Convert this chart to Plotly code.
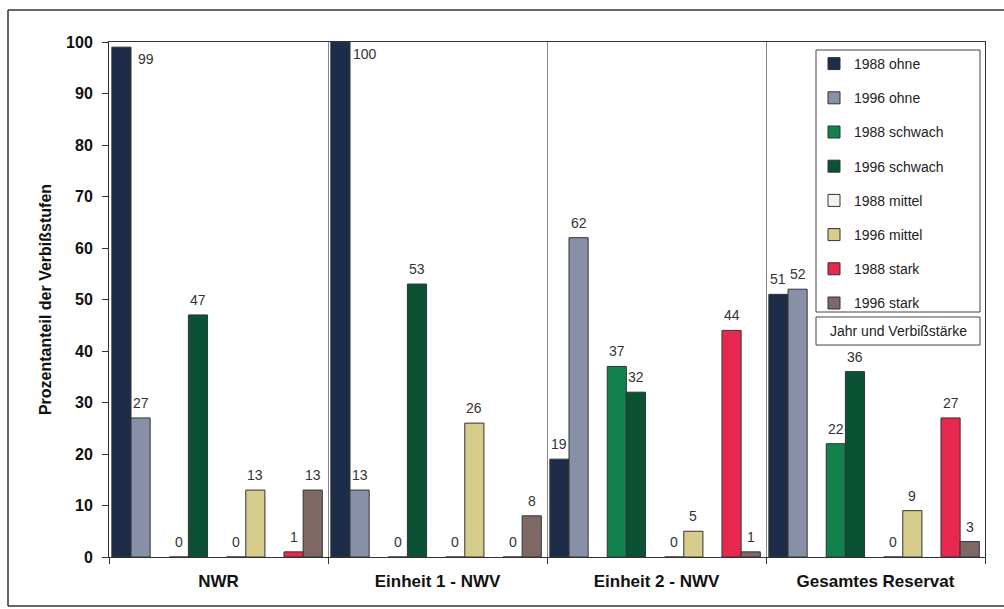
import plotly.graph_objects as go

# Daten
gebiete = ["NWR", "Einheit 1 - NWV", "Einheit 2 - NWV", "Gesamtes Reservat"]
serien = ["1988 ohne", "1996 ohne", "1988 schwach", "1996 schwach",
          "1988 mittel", "1996 mittel", "1988 stark", "1996 stark"]
werte_1988_ohne = [99, 100, 19, 51]
werte_1996_ohne = [27, 13, 62, 52]
werte_1988_schwach = [0, 0, 37, 22]
werte_1996_schwach = [47, 53, 32, 36]
werte_1988_mittel = [0, 0, 0, 0]
werte_1996_mittel = [13, 26, 5, 9]
werte_1988_stark = [1, 0, 44, 27]
werte_1996_stark = [13, 8, 1, 3]

werte = [werte_1988_ohne, werte_1996_ohne, werte_1988_schwach, werte_1996_schwach,
         werte_1988_mittel, werte_1996_mittel, werte_1988_stark, werte_1996_stark]

farben = ["#1d2c48", "#8790a6", "#12824d", "#0b5133",
          "#f4f4ee", "#d6cc8c", "#e8294f", "#7d6866"]

# Geometrie (Pixel der Vorlage)
W, H = 1004, 609
L, R, T, B = 109, 985, 42, 557
cat_px = (R - L) / len(gebiete)
paar_start = [-0.487, -0.225, 0.037, 0.299]
bar_w = 0.0875
FONT = "Liberation Sans, Arial, sans-serif"


def px_x(px):
    return (px - L) / (R - L)


def px_y(py):
    return (B - py) / (B - T)


fig = go.Figure()
annots = []
for i, (name, vals, col) in enumerate(zip(serien, werte, farben)):
    off = paar_start[i // 2] + (i % 2) * bar_w
    fig.add_trace(go.Bar(
        x=gebiete, y=vals, name=name, legendgroup=name,
        offset=off, width=bar_w,
        marker=dict(color=col, line=dict(color="#333333", width=1)),
    ))
    for g, v in zip(gebiete, vals):
        xs = (off + bar_w / 2) * cat_px
        ys = 15
        if v >= 96:
            xs += 25
            ys = -12
        annots.append(dict(
            x=g, y=v, xref="x", yref="y", text=str(v), showarrow=False,
            xshift=xs, yshift=ys, xanchor="center", yanchor="middle",
            font=dict(size=14, color="#333333"),
        ))

annots.append(dict(
    x=px_x((816 + 980) / 2), y=px_y(331), xref="paper", yref="paper",
    xanchor="center", yanchor="middle",
    text="Jahr und Verbißstärke", showarrow=False,
    font=dict(size=14, color="#222222"),
))

shapes = [
    # Legendenrahmen
    dict(type="rect", xref="paper", yref="paper",
         x0=px_x(816), x1=px_x(980), y0=px_y(312), y1=px_y(50),
         line=dict(color="#444444", width=1), fillcolor="white", layer="below"),
    dict(type="rect", xref="paper", yref="paper",
         x0=px_x(816), x1=px_x(980), y0=px_y(345), y1=px_y(317),
         line=dict(color="#444444", width=1), fillcolor="white"),
    # äußerer Rahmen
    dict(type="line", xref="paper", yref="paper",
         x0=px_x(8), x1=px_x(1004), y0=px_y(10), y1=px_y(10),
         line=dict(color="#333333", width=1.5)),
    dict(type="line", xref="paper", yref="paper",
         x0=px_x(8), x1=px_x(8), y0=px_y(10), y1=px_y(606),
         line=dict(color="#333333", width=1.5)),
    dict(type="line", xref="paper", yref="paper",
         x0=px_x(8), x1=px_x(1004), y0=px_y(606), y1=px_y(606),
         line=dict(color="#333333", width=1.5)),
]

fig.update_layout(
    width=W, height=H,
    margin=dict(l=L, r=W - R, t=T, b=H - B),
    paper_bgcolor="white", plot_bgcolor="white",
    font=dict(family=FONT, color="#222222"),
    barmode="group",
    showlegend=True,
    legend=dict(
        x=px_x(814), y=px_y(48), xanchor="left", yanchor="top",
        bgcolor="rgba(0,0,0,0)", borderwidth=0,
        font=dict(size=14, color="#222222"),
        tracegroupgap=13,
    ),
    annotations=annots,
    shapes=shapes,
)

fig.update_xaxes(
    type="category", tickson="boundaries",
    showgrid=True, gridcolor="#888888", gridwidth=1,
    showline=True, linecolor="#333333", linewidth=1, mirror=True,
    ticks="outside", ticklen=6, tickcolor="#333333",
    ticklabelstandoff=9,
    tickfont=dict(size=17, color="#111111"),
    ticktext=[f"<b>{g}</b>" for g in gebiete], tickvals=gebiete,
)
fig.update_yaxes(
    range=[0, 100], dtick=10, showgrid=False, zeroline=False,
    showline=True, linecolor="#333333", linewidth=1, mirror=True,
    ticks="outside", ticklen=6, tickcolor="#333333",
    ticklabelstandoff=6,
    tickfont=dict(size=16, color="#111111"),
    ticktext=[f"<b>{v}</b>" for v in range(0, 101, 10)],
    tickvals=list(range(0, 101, 10)),
    title=dict(text="<b>Prozentanteil der Verbißstufen</b>", standoff=10,
               font=dict(size=16, color="#111111")),
)

fig.write_html("out.html", config={"displayModeBar": False},
               post_script="document.body.style.margin='0';")
